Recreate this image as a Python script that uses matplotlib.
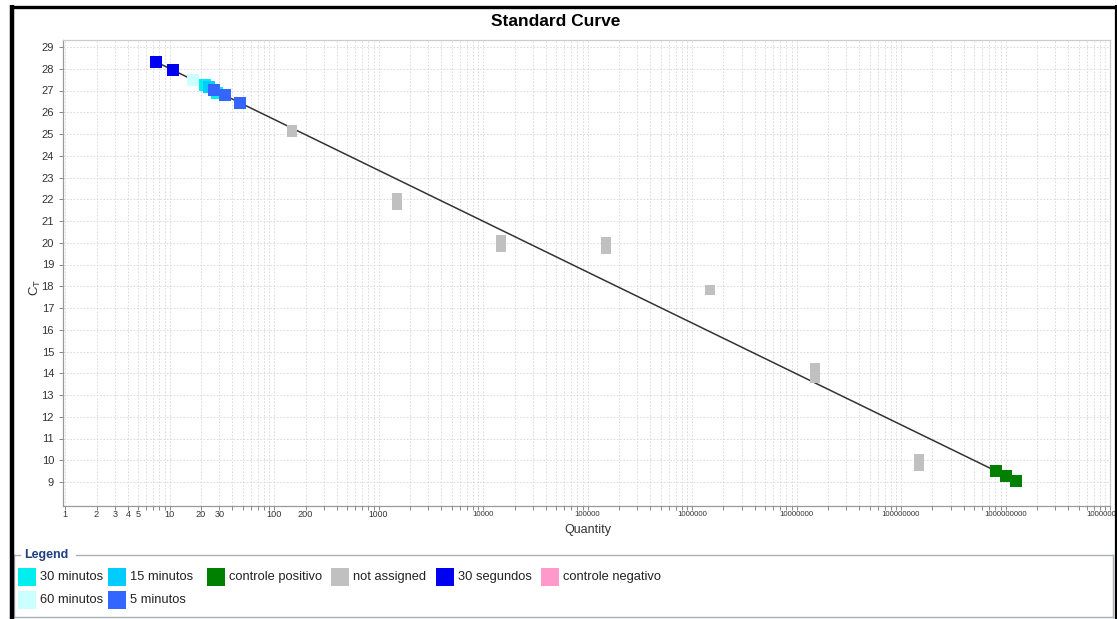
import numpy as np
import matplotlib
matplotlib.use("Agg")
import matplotlib.pyplot as plt
from matplotlib.lines import Line2D
from matplotlib.patches import Rectangle
from matplotlib.ticker import NullFormatter, LogLocator

plt.rcParams['font.family'] = ['Liberation Sans', 'DejaVu Sans']
plt.rcParams['mathtext.fontset'] = 'custom'
plt.rcParams['mathtext.rm'] = 'Liberation Sans'

# Standards grouped by sample type: quantity and Ct
q_30seg = [7.4, 10.8]
ct_30seg = [28.33, 27.92]
q_60min = [16.8]
ct_60min = [27.48]
q_30min = [21.9, 28.5]
ct_30min = [27.25, 26.88]
q_15min = [23.9]
ct_15min = [27.14]
q_5min = [26.7, 34.0, 47.3]
ct_5min = [27.02, 26.79, 26.43]
q_pos = [8.1e8, 1.01e9, 1.26e9]
ct_pos = [9.51, 9.28, 9.05]

# Unassigned wells (duplicates of a 10-fold dilution series)
q_na = [150, 150, 1500, 1500, 15000, 15000, 150000, 150000,
        1.5e6, 1.5e6, 1.5e7, 1.5e7, 1.5e8, 1.5e8]
ct_na = [25.18, 25.10, 22.06, 21.74, 20.13, 19.80, 20.03, 19.71,
         17.85, 17.81, 14.24, 13.78, 10.08, 9.74]

x_tick_vals = [1, 2, 3, 4, 5, 10, 20, 30, 100, 200, 1e3, 1e4, 1e5,
               1e6, 1e7, 1e8, 1e9, 1e10]
x_tick_labels = ["1", "2", "3", "4", "5", "10", "20", "30", "100", "200",
                 "1000", "10000", "100000", "1000000", "10000000",
                 "100000000", "1000000000", "10000000000"]

col = {
    "30 minutos": "#00EEEE",
    "15 minutos": "#00CCFF",
    "controle positivo": "#008000",
    "not assigned": "#C0C0C0",
    "30 segundos": "#0000F0",
    "controle negativo": "#FF99CC",
    "60 minutos": "#CCFFFF",
    "5 minutos": "#3366FF",
}

W, H = 1117, 619
fig = plt.figure(figsize=(W / 100, H / 100), dpi=100)
fig.patch.set_facecolor("white")

def fx(px):
    return px / W

def fy(py):
    return 1 - py / H

ax = fig.add_axes([fx(63), fy(506), fx(1110) - fx(63), fy(40) - fy(506)])
ax.set_xscale("log")
ax.set_xlim(10 ** -0.02, 1e10)
ax.set_ylim(9 - 24 / 21.75, 29 + 7 / 21.75)

# grid
ax.xaxis.set_major_locator(LogLocator(base=10, numticks=20))
ax.xaxis.set_minor_locator(LogLocator(base=10, subs=np.arange(2, 10), numticks=200))
ax.set_yticks(np.arange(9, 30))
ax.grid(True, which="both", axis="x", color="#D6D6D6", lw=0.6, ls=(0, (2, 2)))
ax.grid(True, which="major", axis="y", color="#D6D6D6", lw=0.6, ls=(0, (2, 2)))
ax.set_axisbelow(True)

ax.xaxis.set_major_formatter(NullFormatter())
ax.xaxis.set_minor_formatter(NullFormatter())
ax.tick_params(axis="both", which="both", direction="out", length=3,
               color="#888888", width=0.7, labelsize=8, labelcolor="#333333")
ax.tick_params(axis="x", which="both", labelbottom=False)

for v, lab in zip(x_tick_vals, x_tick_labels):
    if v <= 300:
        fs = 6.6
    elif v <= 1e3:
        fs = 6.2
    else:
        fs = 5.6
    ax.annotate(lab, xy=(v, 0), xycoords=("data", "axes fraction"),
                xytext=(0, -6), textcoords="offset points",
                ha="center", va="center", fontsize=fs, color="#333333",
                annotation_clip=False)

for s in ["left", "bottom"]:
    ax.spines[s].set_color("#999999")
for s in ["top", "right"]:
    ax.spines[s].set_color("#CCCCCC")
for s in ax.spines.values():
    s.set_linewidth(0.9)

# regression through the standards
q_std = np.array(q_30seg + q_60min + q_30min + q_15min + q_5min + q_pos)
ct_std = np.array(ct_30seg + ct_60min + ct_30min + ct_15min + ct_5min + ct_pos)
slope, icpt = np.polyfit(np.log10(q_std), ct_std, 1)
xl = np.array([q_std.min(), q_std.max()])
ax.plot(xl, slope * np.log10(xl) + icpt, color="#333333", lw=1.1, zorder=2)

ms = 8
ax.plot(q_na, ct_na, "s", color=col["not assigned"], ms=7.2, mew=0, zorder=3)
ax.plot(q_30seg, ct_30seg, "s", color=col["30 segundos"], ms=ms, mew=0, zorder=4)
ax.plot(q_60min, ct_60min, "s", color=col["60 minutos"], ms=ms, mew=0, zorder=4)
ax.plot(q_30min, ct_30min, "s", color=col["30 minutos"], ms=ms, mew=0, zorder=4)
ax.plot(q_15min, ct_15min, "s", color=col["15 minutos"], ms=ms, mew=0, zorder=4)
ax.plot(q_5min, ct_5min, "s", color=col["5 minutos"], ms=ms, mew=0, zorder=5)
ax.plot(q_pos, ct_pos, "s", color=col["controle positivo"], ms=ms, mew=0, zorder=4)

fig.text(fx(588), fy(530), "Quantity", ha="center", va="center",
         fontsize=9, color="#333333")
fig.text(fx(35), fy(287), r"C$_\mathregular{T}$", ha="center", va="center",
         rotation=90, fontsize=9.5, color="#333333")

fig.text(fx(556), fy(21), "Standard Curve", ha="center", va="center",
         fontsize=12.5, fontweight="bold", color="black")

# legend panel
lc = "#A8B0B8"
fig.add_artist(Line2D([fx(14), fx(20)], [fy(555), fy(555)], color=lc, lw=1))
fig.add_artist(Line2D([fx(76), fx(1113)], [fy(555), fy(555)], color=lc, lw=1))
fig.add_artist(Line2D([fx(14), fx(14)], [fy(555), fy(617)], color=lc, lw=1))
fig.add_artist(Line2D([fx(1113), fx(1113)], [fy(555), fy(617)], color=lc, lw=1))
fig.add_artist(Line2D([fx(14), fx(1113)], [fy(617), fy(617)], color=lc, lw=1))
fig.text(fx(24), fy(555), "Legend", ha="left", va="center", fontsize=9,
         fontweight="bold", color="#1F3F7F")

legend_items = [
    ("30 minutos", 18, 577), ("15 minutos", 108, 577),
    ("controle positivo", 207, 577), ("not assigned", 331, 577),
    ("30 segundos", 436, 577), ("controle negativo", 541, 577),
    ("60 minutos", 18, 600), ("5 minutos", 108, 600),
]
for name, x0, yc in legend_items:
    fig.add_artist(Rectangle((fx(x0), fy(yc + 9)), fx(18), 18 / H,
                             facecolor=col[name], edgecolor="none"))
    fig.text(fx(x0 + 22), fy(yc), name, ha="left", va="center",
             fontsize=9.3, color="#222222")

# outer frame
fig.add_artist(Line2D([fx(12), fx(12)], [fy(5), 0], color="black", lw=3.2,
                      solid_capstyle="butt"))
fig.add_artist(Line2D([fx(10), 1], [fy(6.5), fy(6.5)], color="black", lw=2.4,
                      solid_capstyle="butt"))
fig.add_artist(Line2D([fx(1116), fx(1116)], [fy(5), 0], color="black", lw=1.6,
                      solid_capstyle="butt"))

fig.savefig("out.png", dpi=100, facecolor="white")
